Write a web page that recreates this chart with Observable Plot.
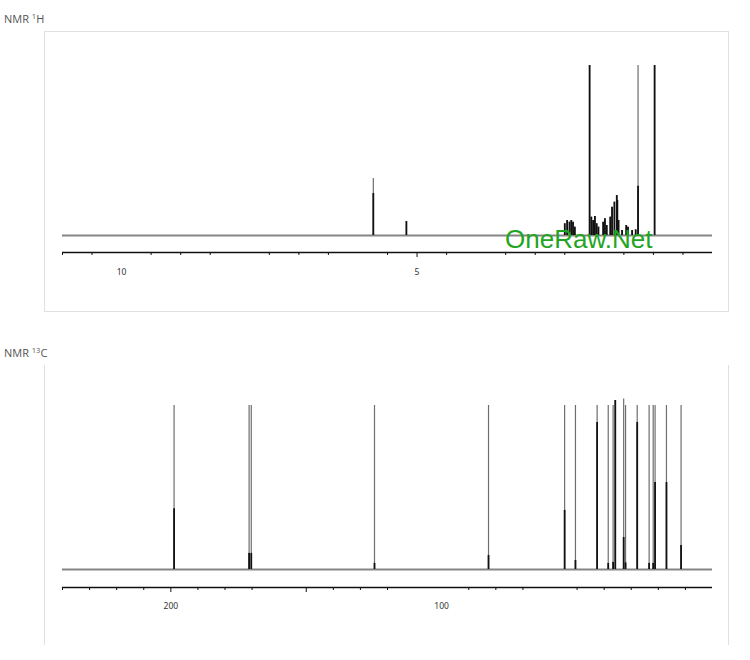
<!DOCTYPE html>
<html><head><meta charset="utf-8">
<script src="https://cdn.jsdelivr.net/npm/d3@7"></script>
<script src="https://cdn.jsdelivr.net/npm/@observablehq/plot@0.6"></script>
<style>
body{margin:0;background:#fff;width:750px;height:660px;position:relative;overflow:hidden;font-family:"Open Sans",sans-serif}
.title{position:absolute;left:4px;font-size:11px;color:#555;line-height:13px;white-space:nowrap}
.title sup{font-size:7.5px;vertical-align:4px;line-height:0}
.box{position:absolute;box-sizing:border-box;border:1px solid #e0e0e0}
.chart{position:absolute;left:44px}
.wm{position:absolute;left:505px;top:226px;font-family:"Liberation Sans",Arial,sans-serif;font-size:26px;line-height:26px;color:#1fa51f;white-space:nowrap;z-index:5}
</style></head><body>
<div class="title" style="top:12px">NMR <sup>1</sup>H</div>
<div class="box" style="left:44px;top:31px;width:685px;height:281px"></div>
<div class="title" style="top:346px">NMR <sup>13</sup>C</div>
<div class="box" style="left:44px;top:365px;width:685px;height:280px;border-top:none;border-bottom:none"></div>
<div id="c1" class="chart" style="top:31px"></div>
<div id="c2" class="chart" style="top:372px"></div>
<div class="wm">OneRaw.Net</div>
<script>
// 1H spectrum peaks (ppm, relative intensity, intensity of the dark broad base)
const h1Pos  = [5.74, 5.18, 2.50, 2.46, 2.42, 2.39, 2.36, 2.33, 2.08, 2.05, 2.02, 1.99, 1.96, 1.93, 1.85, 1.82, 1.79, 1.73, 1.70, 1.66, 1.62, 1.61, 1.59, 1.53, 1.46, 1.43, 1.36, 1.30, 1.26, 0.98];
const h1Int  = [33.5, 8.2, 6.9, 8.8, 7.8, 8.8, 7.8, 4.9, 100, 10.8, 8.8, 11.2, 6.9, 4.9, 7.8, 9.8, 5.9, 10.8, 16.6, 19.6, 23.5, 20.6, 8.8, 2.9, 5.9, 4.9, 2.9, 3.3, 100, 100];
const h1Core = [24.7, 8.2, 6.9, 8.8, 7.8, 8.8, 7.8, 4.9, 100, 10.8, 8.8, 11.2, 6.9, 4.9, 7.8, 9.8, 5.9, 10.8, 16.6, 19.6, 23.5, 20.6, 8.8, 2.9, 5.9, 4.9, 2.9, 3.3, 29, 100];
const h1Ticks = [11, 10.5, 9.5, 9, 8.5, 7.5, 7, 6.5, 5.5, 4.5, 3.5, 3, 2.5, 1.5, 1, 0.5];
const h1MajorTicks = [5];
const h1Labels = [10, 5];

// 13C spectrum peaks
const c13Pos  = [198.8, 171.1, 170.3, 124.8, 82.7, 54.6, 50.6, 42.6, 38.5, 36.7, 35.9, 32.8, 32.1, 27.8, 23.4, 21.9, 21.2, 17.0, 11.6];
const c13Int  = [100, 100, 100, 100, 100, 100, 100, 100, 100, 100, 103, 104, 100, 100, 100, 100, 100, 100, 100];
const c13Core = [37, 9.8, 9.8, 3.7, 8.5, 36, 5.5, 89.6, 3.7, 4.3, 103, 19.5, 4, 89.6, 3.7, 3.7, 53, 53, 14.6];
const c13Ticks = [240, 230, 220, 210, 190, 180, 170, 140, 130, 120, 90, 80, 70, 50, 40, 30, 20, 10];
const c13MajorTicks = [200, 150];
const c13Labels = [200, 100];

const h1 = h1Pos.map((p, i) => ({ppm: p, int: h1Int[i], core: h1Core[i]}));
const c13 = c13Pos.map((p, i) => ({ppm: p, int: c13Int[i], core: c13Core[i]}));

function spectrum(data, xDomain, yDomain, h, mt, mb, ticks, majors, labels, pad) {
  return Plot.plot({
    width: 684, height: h,
    marginLeft: 18, marginRight: 16, marginTop: mt, marginBottom: mb,
    x: {domain: xDomain},
    y: {domain: yDomain, axis: null},
    style: {fontFamily: "'Noto Sans', sans-serif", fontSize: "8.5px", color: "#333", background: "transparent", overflow: "visible"},
    marks: [
      Plot.ruleY([0], {stroke: "#858585", strokeWidth: 2}),
      Plot.ruleX(data, {x: "ppm", y1: 0, y2: "int", stroke: "#6e6e6e", strokeWidth: 1.2}),
      Plot.ruleX(data, {x: "ppm", y1: 0, y2: "core", stroke: "#111", strokeWidth: 1.8}),
      Plot.ruleY([yDomain[0]], {stroke: "#111", strokeWidth: 1.5}),
      Plot.axisX({ticks: ticks, tickSize: 3, tickFormat: () => "", stroke: "#111", label: null}),
      Plot.axisX({ticks: majors, tickSize: 5, tickFormat: () => "", stroke: "#111", label: null}),
      Plot.axisX({ticks: labels, tickSize: 0, tickPadding: pad, tickFormat: d => String(d), label: null})
    ]
  });
}

document.getElementById("c1").appendChild(
  spectrum(h1, [11, 0], [-10, 100], 280, 34, 59, h1Ticks, h1MajorTicks, h1Labels, 16));
document.getElementById("c2").appendChild(
  spectrum(c13, [240, 0], [-11, 100], 273, 33, 58, c13Ticks, c13MajorTicks, c13Labels, 15));
</script>
</body></html>
